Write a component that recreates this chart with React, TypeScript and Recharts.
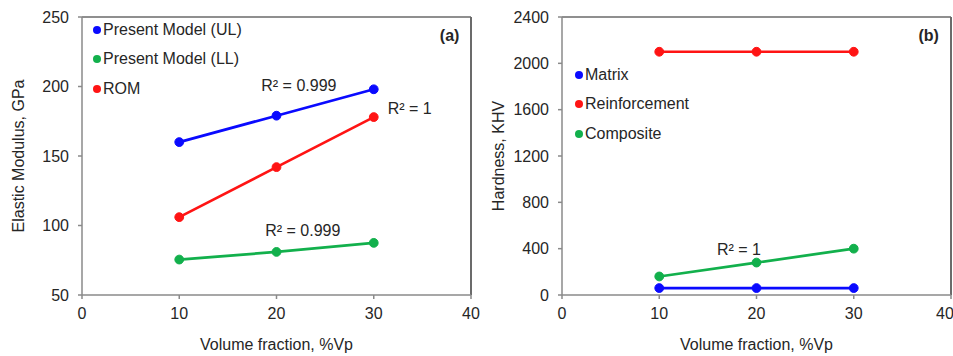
import React from 'react';
import {
  LineChart,
  Line,
  XAxis,
  YAxis,
  Legend,
  ReferenceLine,
  ReferenceDot,
} from 'recharts';

// volume fraction (%Vp) on the x axis
const volumeFraction = [10, 20, 30];
const xTicks = [0, 10, 20, 30, 40];

// (a) elastic modulus, GPa
const modulusUL = [160, 179, 198];
const modulusLL = [75.5, 81, 87.5];
const modulusROM = [106, 142, 178];
const modulusTicks = [50, 100, 150, 200, 250];

// (b) hardness, KHV
const hardnessMatrix = [60, 60, 60];
const hardnessReinforcement = [2100, 2100, 2100];
const hardnessComposite = [160, 280, 400];
const hardnessTicks = [0, 400, 800, 1200, 1600, 2000, 2400];

const BLUE = '#0a0aff';
const RED = '#ff1414';
const GREEN = '#12b04c';
const TEXT = '#262626';
const FONT = '"Liberation Sans", Arial, sans-serif';
const FS = 16;

const modulusData = volumeFraction.map((vp, i) => ({
  vp,
  ul: modulusUL[i],
  ll: modulusLL[i],
  rom: modulusROM[i],
}));

const hardnessData = volumeFraction.map((vp, i) => ({
  vp,
  matrix: hardnessMatrix[i],
  reinforcement: hardnessReinforcement[i],
  composite: hardnessComposite[i],
}));

interface Series {
  key: string;
  name: string;
  color: string;
}

interface Note {
  x: number;
  y: number;
  text: string;
  bold?: boolean;
}

const modulusSeries: Series[] = [
  { key: 'ul', name: 'Present Model (UL)', color: BLUE },
  { key: 'll', name: 'Present Model (LL)', color: GREEN },
  { key: 'rom', name: 'ROM', color: RED },
];

const hardnessSeries: Series[] = [
  { key: 'matrix', name: 'Matrix', color: BLUE },
  { key: 'reinforcement', name: 'Reinforcement', color: RED },
  { key: 'composite', name: 'Composite', color: GREEN },
];

const modulusNotes: Note[] = [
  { x: 22.3, y: 200.5, text: 'R² = 0.999' },
  { x: 33.7, y: 184, text: 'R² = 1' },
  { x: 22.7, y: 96.3, text: 'R² = 0.999' },
  { x: 37.8, y: 237, text: '(a)', bold: true },
];

const hardnessNotes: Note[] = [
  { x: 18.2, y: 395, text: 'R² = 1' },
  { x: 37.7, y: 2245, text: '(b)', bold: true },
];

// eslint-disable-next-line @typescript-eslint/no-explicit-any
const LegendList = ({ payload, order }: { payload?: any[]; order: Series[] }) => {
  const names = order.map((s) => s.name);
  const items = [...(payload ?? [])].sort(
    (a, b) => names.indexOf(a.value) - names.indexOf(b.value)
  );
  return (
    <div style={{ fontSize: FS, color: TEXT, fontFamily: FONT }}>
      {items.map((entry) => (
        <div
          key={entry.value}
          style={{ height: 29.3, display: 'flex', alignItems: 'center', whiteSpace: 'nowrap' }}
        >
          <span
            style={{
              width: 8,
              height: 8,
              borderRadius: '50%',
              background: entry.color,
              marginRight: 2,
              display: 'inline-block',
            }}
          />
          <span>{entry.value}</span>
        </div>
      ))}
    </div>
  );
};

// eslint-disable-next-line @typescript-eslint/no-explicit-any
const YTitle = ({ viewBox, value, dx }: any) => {
  const cx = viewBox.x + dx;
  const cy = viewBox.y + viewBox.height / 2;
  return (
    <text
      x={cx}
      y={cy}
      transform={`rotate(-90 ${cx} ${cy})`}
      textAnchor="middle"
      dominantBaseline="central"
      fill={TEXT}
      fontSize={FS}
    >
      {value}
    </text>
  );
};

// eslint-disable-next-line @typescript-eslint/no-explicit-any
const XTitle = ({ viewBox, value }: any) => (
  <text
    x={viewBox.x + viewBox.width / 2}
    y={viewBox.y + 49}
    textAnchor="middle"
    dominantBaseline="central"
    fill={TEXT}
    fontSize={FS}
  >
    {value}
  </text>
);

interface PanelProps {
  width: number;
  // eslint-disable-next-line @typescript-eslint/no-explicit-any
  data: any[];
  series: Series[];
  yDomain: [number, number];
  yTicks: number[];
  yTitle: string;
  notes: Note[];
  legendTop: number;
  legendLeft: number;
}

function Panel({
  width,
  data,
  series,
  yDomain,
  yTicks,
  yTitle,
  notes,
  legendTop,
  legendLeft,
}: PanelProps) {
  return (
    <LineChart
      width={width}
      height={356}
      data={data}
      margin={{ top: 17, right: width - 471, bottom: 3, left: 0 }}
    >
      <XAxis
        dataKey="vp"
        type="number"
        domain={[0, 40]}
        ticks={xTicks}
        stroke="#8a8a8a"
        strokeWidth={1.5}
        tickSize={4}
        tickMargin={9}
        tick={{ fill: TEXT, fontSize: FS }}
        height={58}
        label={<XTitle value="Volume fraction, %Vp" />}
      />
      <YAxis
        type="number"
        domain={yDomain}
        ticks={yTicks}
        stroke="#8a8a8a"
        strokeWidth={1.5}
        tickSize={4}
        tickMargin={9}
        tick={{ fill: TEXT, fontSize: FS }}
        width={82}
        label={<YTitle value={yTitle} dx={18} />}
      />
      <ReferenceLine x={40} stroke="#3a3a3a" strokeWidth={1.5} />
      <ReferenceLine y={yDomain[1]} stroke="#6a6a6a" strokeWidth={1.5} />
      <Legend
        layout="vertical"
        align="center"
        verticalAlign="middle"
        wrapperStyle={{ top: legendTop, left: legendLeft, width: 'auto', height: 'auto' }}
        content={<LegendList order={series} />}
      />
      {series.map((s) => (
        <Line
          key={s.key}
          type="linear"
          dataKey={s.key}
          name={s.name}
          stroke={s.color}
          strokeWidth={2.7}
          dot={{ r: 4.4, fill: s.color, stroke: s.color, strokeWidth: 1 }}
          activeDot={false}
          isAnimationActive={false}
        />
      ))}
      {notes.map((n) => (
        <ReferenceDot
          key={n.text + n.x}
          x={n.x}
          y={n.y}
          r={1}
          fill="none"
          stroke="none"
          label={{
            value: n.text,
            position: 'center',
            fill: TEXT,
            fontSize: FS,
            fontWeight: n.bold ? 'bold' : 'normal',
          }}
        />
      ))}
    </LineChart>
  );
}

export default function App() {
  return (
    <div
      style={{
        position: 'absolute',
        left: 0,
        top: 0,
        width: 953,
        height: 356,
        background: '#fff',
        display: 'flex',
        fontFamily: FONT,
      }}
    >
      <Panel
        width={480}
        data={modulusData}
        series={modulusSeries}
        yDomain={[50, 250]}
        yTicks={modulusTicks}
        yTitle="Elastic Modulus, GPa"
        notes={modulusNotes}
        legendTop={15.5}
        legendLeft={93}
      />
      <Panel
        width={473}
        data={hardnessData}
        series={hardnessSeries}
        yDomain={[0, 2400]}
        yTicks={hardnessTicks}
        yTitle="Hardness, KHV"
        notes={hardnessNotes}
        legendTop={60.5}
        legendLeft={95}
      />
    </div>
  );
}
